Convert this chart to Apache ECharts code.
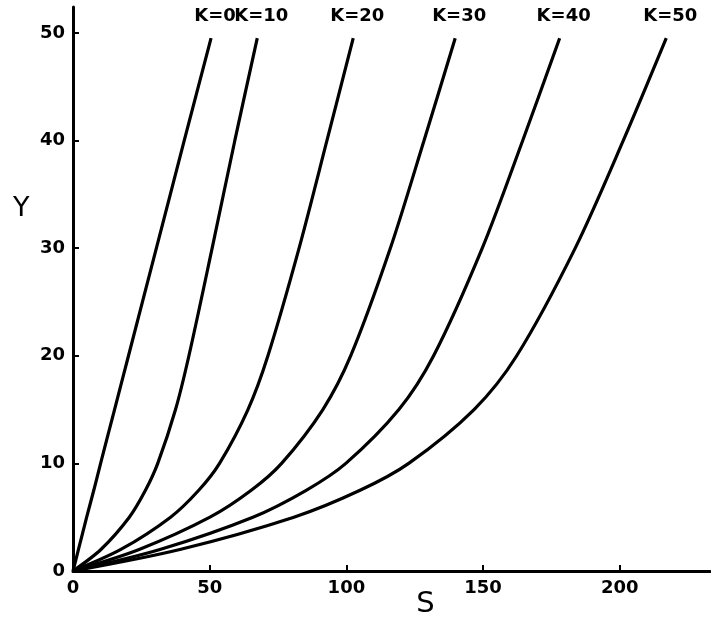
<!DOCTYPE html>
<html>
<head>
<meta charset="utf-8">
<script src="https://cdn.jsdelivr.net/npm/echarts@6/dist/echarts.min.js"></script>
<style>
  html, body { margin: 0; padding: 0; background: #fff; }
  #chart { width: 711px; height: 629px; }
</style>
</head>
<body>
<div id="chart"></div>
<script>
// curve names (K values)
const curveNames = ['K=0', 'K=10', 'K=20', 'K=30', 'K=40', 'K=50']

const yLevels = [0, 2, 5, 7.5, 10, 15, 20, 30, 40, 49.5]

const sK0 = [0, 2, 5, 7.6, 10.1, 15.2, 20.3, 30.5, 40.7, 50.5]
const sK10 = [0, 10.2, 20.6, 26.5, 31, 37.5, 42.4, 50.9, 59.2, 67.4]
const sK20 = [0, 17.5, 35.7, 46, 53.6, 64, 71.3, 82.7, 92.9, 102.5]
const sK30 = [0, 24.2, 50.1, 65.2, 76.3, 91.4, 101.6, 116.1, 128.4, 139.8]
const sK40 = [0, 31.8, 65.8, 85.3, 99.8, 119.2, 131.9, 149.7, 164.5, 178]
const sK50 = [0, 39.1, 80.8, 105, 122.8, 146.7, 162.3, 183.7, 201.3, 217]

const xTicks = [0, 50, 100, 150, 200]
const yTicks = [0, 10, 20, 30, 40, 50]

const curves = [sK0, sK10, sK20, sK30, sK40, sK50]

const font = 'DejaVu Sans'

const chart = echarts.init(document.getElementById('chart'))

const series = curves.map((s, i) => {
    const data = s.map((v, j) => [v, yLevels[j]])
    const last = data.length - 1
    // curve name sits above the top end of each curve
    data[last] = {
        value: data[last],
        label: {
            show: true,
            position: 'top',
            distance: 13,
            offset: [4, 0],
            formatter: curveNames[i],
            color: '#000',
            fontFamily: font,
            fontSize: 18,
            fontWeight: 'bold'
        }
    }
    return {
        type: 'line',
        name: curveNames[i],
        data,
        smooth: 0.3,
        showSymbol: true,
        symbol: 'circle',
        symbolSize: 0,
        label: { show: false },
        lineStyle: { color: '#000', width: 3.2 },
        itemStyle: { color: '#000' },
        silent: true
    }
})

const option = {
    backgroundColor: '#fff',
    animation: false,
    // Y axis title, placed beside the upper part of the axis as in the original
    title: {
        text: 'Y',
        left: 8,
        top: 190,
        textStyle: { color: '#000', fontFamily: font, fontSize: 27, fontWeight: 'normal' }
    },
    grid: { left: 73, right: 1, top: 7, bottom: 58, outerBoundsMode: 'none' },
    xAxis: {
        type: 'value',
        min: 0,
        max: 233,
        splitLine: { show: false },
        axisLine: { onZero: false, lineStyle: { color: '#000', width: 3 } },
        axisTick: { inside: true, length: 6, lineStyle: { color: '#000', width: 2 }, customValues: xTicks },
        axisLabel: {
            customValues: xTicks,
            color: '#000', fontFamily: font, fontSize: 18, fontWeight: 'bold', margin: 8
        },
        name: 'S',
        nameLocation: 'middle',
        nameGap: 19,
        nameMoveOverlap: false,
        nameTextStyle: { color: '#000', fontFamily: font, fontSize: 29, padding: [0, 0, 0, 68] }
    },
    yAxis: {
        type: 'value',
        min: 0,
        max: 52.4,
        splitLine: { show: false },
        axisLine: { onZero: false, lineStyle: { color: '#000', width: 3 } },
        axisTick: { inside: true, length: 6, lineStyle: { color: '#000', width: 2 }, customValues: yTicks },
        axisLabel: {
            customValues: yTicks,
            color: '#000', fontFamily: font, fontSize: 18, fontWeight: 'bold', margin: 8
        }
    },
    series
}

chart.setOption(option)
</script>
</body>
</html>
